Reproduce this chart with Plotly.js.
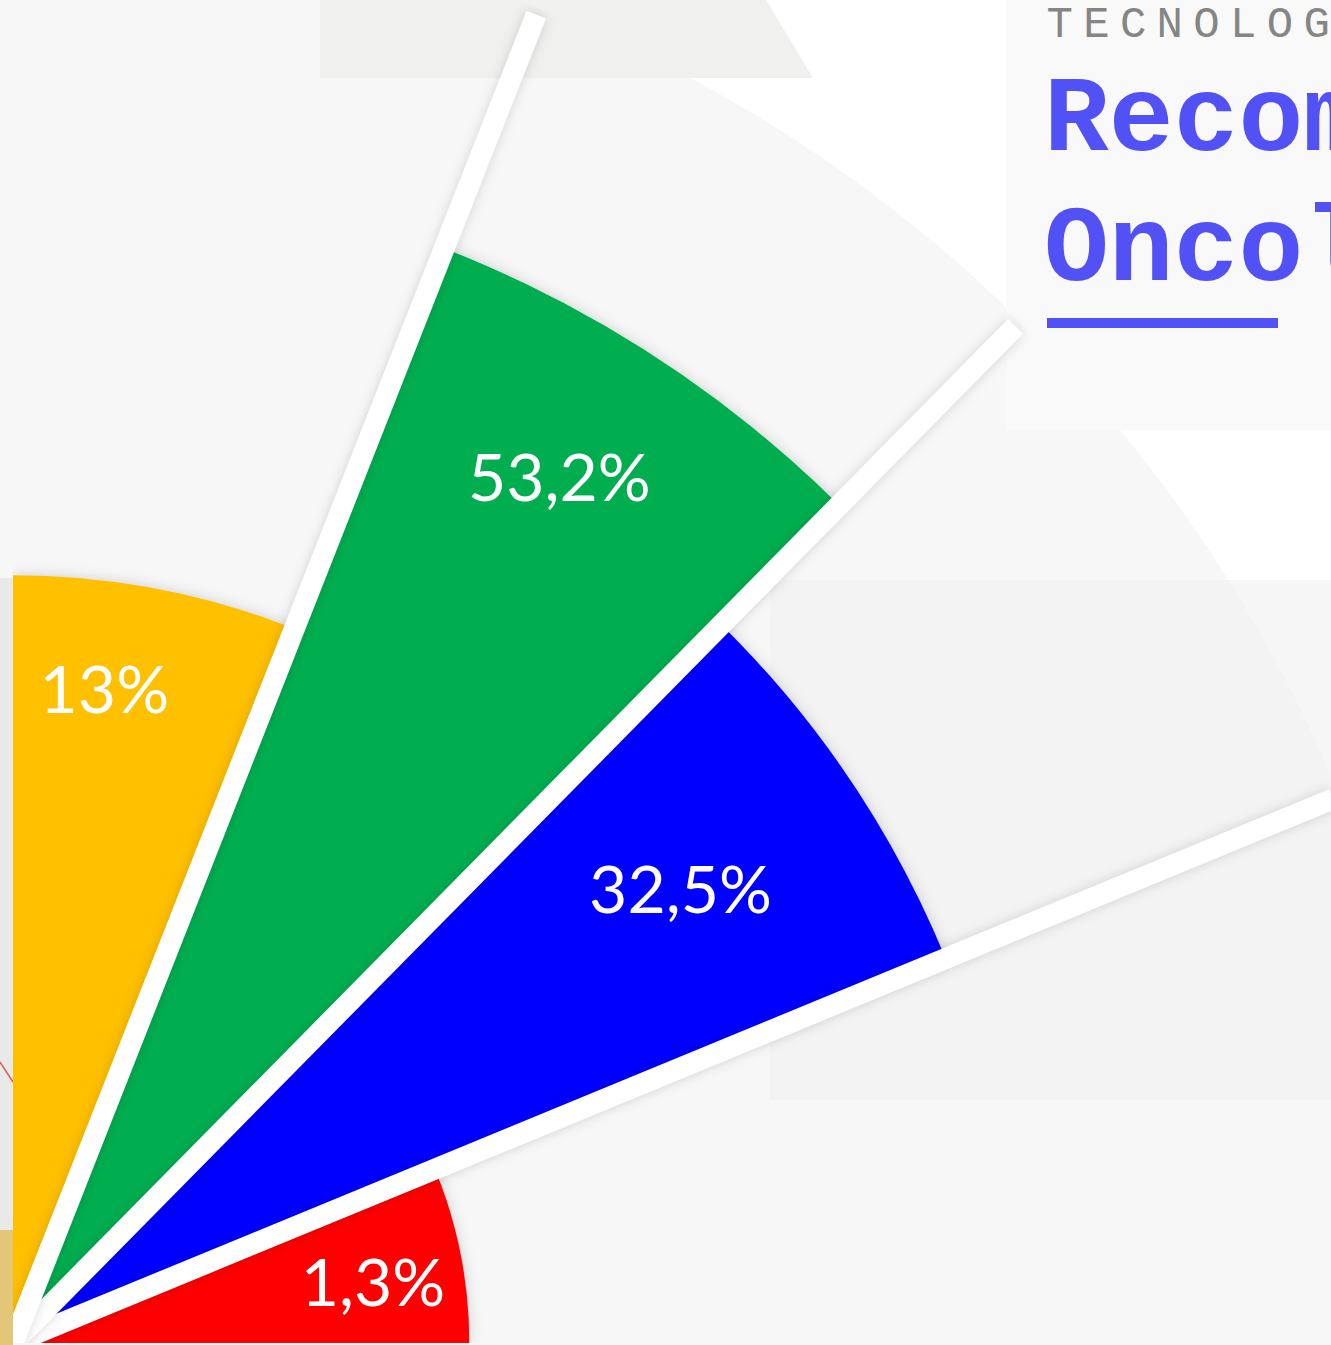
<!DOCTYPE html>
<html>
<head>
<meta charset="utf-8">
<script src="https://cdn.plot.ly/plotly-3.0.1.min.js"></script>
<style>
  html, body { margin:0; padding:0; width:1331px; height:1345px; overflow:hidden; background:#f7f7f7; }
  #chart { position:absolute; left:0; top:-92px; width:1448px; height:1437px; }
  g.annotation[data-index="0"] text { letter-spacing: 10.3px; }
  g.barlayer g.trace path { filter: drop-shadow(0px 0px 7px rgba(0,0,0,0.16)); }
  g.scatterlayer path.js-line { filter: drop-shadow(0px 0px 6px rgba(0,0,0,0.14)); }
</style>
</head>
<body>
<div id="chart"></div>
<script>
// ---------------- data ----------------
const shareLabels = ['1,3%', '32,5%', '53,2%', '13%'];
const shareValues = [1.3, 32.5, 53.2, 13];
// radial length of each sector, in % of the outer grey ring
const barLength = [31.8, 70.3, 82.0, 53.5];
// angular boundaries of the four sectors (degrees, counter-clockwise from east)
const sectorEdges = [0, 22.4, 45.4, 68.5, 90];
const kicker = 'TECNOLOGIA';
const titleLines = ['Recomendações', 'Oncologia'];

// ---------------- style ----------------
const barColors = ['#FF0000', '#0000FF', '#00AE50', '#FFC000'];
const labelRadiusFrac = [0.80, 0.80, 0.87, 0.86];
const labelAngleShift = [-1.6, 0.3, 0.8, 2.8];
const labelDownPx = 7;
const accent = '#5151F5';

// geometry of the page: origin of the quarter-rose and its outer radius in px
const OX = 13, OY = 1343, RPX = 1435;
const px = x => (x - OX) / RPX;
const py = y => (OY - y) / RPX;
const D2R = Math.PI / 180;

const theta = sectorEdges.slice(0, -1).map((e, i) => (e + sectorEdges[i + 1]) / 2);
const widths = sectorEdges.slice(0, -1).map((e, i) => sectorEdges[i + 1] - e);

// label anchor: polar point, nudged a few px down on screen
const labelPos = barLength.map((v, i) => {
  const rr = v * labelRadiusFrac[i], tt = (theta[i] + labelAngleShift[i]) * D2R;
  const ppu = RPX / 100;
  const x = rr * ppu * Math.cos(tt), y = rr * ppu * Math.sin(tt) - labelDownPx;
  return { r: Math.sqrt(x * x + y * y) / ppu, t: Math.atan2(y, x) / D2R };
});

const traces = [];
traces.push({
  type: 'barpolar',
  r: barLength,
  theta: theta,
  width: widths,
  marker: { color: barColors, line: { width: 0 } },
  customdata: shareValues,
  hoverinfo: 'skip'
});
sectorEdges.slice(1, -1).forEach(a => {
  traces.push({
    type: 'scatterpolar', mode: 'lines',
    r: [0, 99.5], theta: [a, a],
    line: { color: '#ffffff', width: 21 },
    hoverinfo: 'skip'
  });
});
traces.push({
  type: 'scatterpolar', mode: 'text',
  r: labelPos.map(p => p.r),
  theta: labelPos.map(p => p.t),
  text: shareLabels,
  textposition: 'middle center',
  textfont: { family: 'Lato, "Open Sans", sans-serif', size: 66, color: '#ffffff' },
  hoverinfo: 'skip'
});

// darker part of the right-hand rectangle = rectangle ∩ outer ring
function ringClippedRect(x0, y0, x1, y1) {
  const yTop = y0, yBot = y1;
  const xAt = y => OX + Math.sqrt(RPX * RPX - (OY - y) * (OY - y));
  let pts = [[x0, yTop], [xAt(yTop), yTop]];
  const n = 40;
  for (let k = 1; k <= n; k++) {
    const y = yTop + (yBot - yTop) * k / n;
    pts.push([Math.min(xAt(y), x1), y]);
  }
  pts.push([x0, yBot]);
  return 'M ' + pts.map(p => px(p[0]) + ' ' + py(p[1])).join(' L ') + ' Z';
}

const shapes = [
  { type: 'circle', xref: 'paper', yref: 'paper', layer: 'below',
    x0: -1, x1: 1, y0: -1, y1: 1, fillcolor: '#f7f7f7', line: { width: 0 } },
  { type: 'path', xref: 'paper', yref: 'paper', layer: 'below',
    path: `M ${px(320)} ${py(-5)} L ${px(763)} ${py(-5)} L ${px(813)} ${py(78)} L ${px(320)} ${py(78)} Z`,
    fillcolor: '#f0f0ef', line: { width: 0 } },
  { type: 'rect', xref: 'paper', yref: 'paper', layer: 'below',
    x0: px(770), x1: px(1448), y0: py(1100), y1: py(580),
    fillcolor: '#f6f6f6', line: { width: 0 } },
  { type: 'path', xref: 'paper', yref: 'paper', layer: 'below',
    path: ringClippedRect(770, 580, 1448, 1100),
    fillcolor: '#f3f3f3', line: { width: 0 } },
  { type: 'rect', xref: 'paper', yref: 'paper', layer: 'below',
    x0: px(1006), x1: px(1448), y0: py(430), y1: py(-10),
    fillcolor: '#f9f9f9', line: { width: 0 } },
  { type: 'rect', xref: 'paper', yref: 'paper', layer: 'above',
    x0: px(1047), x1: px(1278), y0: py(328), y1: py(318),
    fillcolor: accent, line: { width: 0 } },
  { type: 'rect', xref: 'paper', yref: 'paper', layer: 'below',
    x0: px(0), x1: px(13), y0: py(1230), y1: py(578),
    fillcolor: '#e9e9e9', line: { width: 0 } },
  { type: 'rect', xref: 'paper', yref: 'paper', layer: 'below',
    x0: px(0), x1: px(13), y0: py(1345), y1: py(1230),
    fillcolor: '#e4c678', line: { width: 0 } },
  { type: 'line', xref: 'paper', yref: 'paper', layer: 'below',
    x0: px(0), x1: px(13), y0: py(1062), y1: py(1082),
    line: { color: '#e06060', width: 1.5 } }
];

const annotations = [
  { xref: 'paper', yref: 'paper', x: px(1096), y: py(-2), xanchor: 'left', yanchor: 'top',
    text: kicker, showarrow: false,
    font: { family: '"Liberation Mono", "Courier New", monospace', size: 44, color: '#858585' } },
  { xref: 'paper', yref: 'paper', x: px(1042), y: py(58), xanchor: 'left', yanchor: 'top',
    text: '<b>' + titleLines[0] + '</b>', showarrow: false,
    font: { family: '"Liberation Mono", "Courier New", monospace', size: 108, color: accent } },
  { xref: 'paper', yref: 'paper', x: px(1042), y: py(188), xanchor: 'left', yanchor: 'top',
    text: '<b>' + titleLines[1] + '</b>', showarrow: false,
    font: { family: '"Liberation Mono", "Courier New", monospace', size: 108, color: accent } }
];

const layout = {
  width: 1448, height: 1437,
  margin: { l: 13, r: 0, t: 0, b: 2, pad: 0 },
  paper_bgcolor: '#ffffff',
  plot_bgcolor: 'rgba(0,0,0,0)',
  showlegend: false,
  polar: {
    domain: { x: [0, 1], y: [0, 1] },
    sector: [0, 90],
    hole: 0,
    bgcolor: 'rgba(0,0,0,0)',
    bargap: 0,
    radialaxis: { visible: false, range: [0, 100], showgrid: false, showline: false },
    angularaxis: { visible: false, showgrid: false, showline: false, direction: 'counterclockwise', rotation: 0 }
  },
  shapes: shapes,
  annotations: annotations
};

Plotly.newPlot('chart', traces, layout, { staticPlot: true, displayModeBar: false });
</script>
</body>
</html>
